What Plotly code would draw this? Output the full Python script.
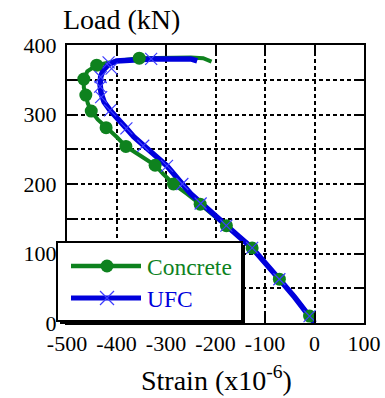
import plotly.graph_objects as go

# Load-strain curves (strain in x10^-6, load in kN)
concrete_strain = [0, -10, -40, -71, -100, -126, -152, -178, -205, -231, -258, -285, -305,
                   -322, -350, -381, -400, -421, -438, -451, -458, -462, -466, -466, -459,
                   -440, -400, -354, -300, -250, -225, -208]
concrete_load = [0, 10, 37, 63, 87, 108, 124, 140, 156, 171, 186, 200, 214,
                 227, 240, 254, 268, 281, 293, 305, 316, 328, 339, 351, 362,
                 371, 377, 381, 382, 382, 381, 376]

# Measured points marked on the concrete curve
concrete_mark_strain = [-10, -71, -126, -178, -231, -285, -322, -381, -421, -451, -462, -466, -440, -354]
concrete_mark_load = [10, 63, 108, 140, 171, 200, 227, 254, 281, 305, 328, 351, 371, 381]

ufc_strain = [0, -10, -40, -71, -100, -126, -152, -178, -205, -230, -250, -267, -283,
              -298, -322, -346, -365, -380, -397, -413, -425, -431, -433, -432, -427,
              -416, -400, -370, -330, -290, -250, -237]
ufc_load = [0, 10, 37, 63, 86, 108, 124, 140, 157, 172, 186, 200, 213,
            226, 241, 255, 268, 280, 293, 306, 318, 330, 342, 354, 364,
            372, 377, 379, 380, 380, 380, 377]

# Measured points marked on the UFC curve
ufc_mark_strain = [-10, -71, -126, -178, -230, -267, -298, -346, -380, -413, -431, -433, -432, -410, -416, -330]
ufc_mark_load = [10, 63, 108, 140, 172, 200, 226, 255, 280, 306, 325, 340, 354, 366, 375, 380]

x_ticks = [-500, -400, -300, -200, -100, 0, 100]
x_tick_text = ["-500", "-400", "-300", "-200", "-100", "0", "100"]
y_ticks = [0, 100, 200, 300, 400]
y_tick_text = ["0", "100", "200", "300", "400"]

series_names = ["Concrete", "UFC"]

GREEN = "#0e821e"
BLUE = "#0000dc"
XBLUE = "#3c3cff"
FONT = "Liberation Serif"

fig = go.Figure()

fig.add_trace(go.Scatter(x=concrete_strain, y=concrete_load, mode="lines", name=series_names[0],
                         line=dict(color=GREEN, width=4), showlegend=False))
fig.add_trace(go.Scatter(x=ufc_strain, y=ufc_load, mode="lines", name=series_names[1],
                         line=dict(color=BLUE, width=5.5), showlegend=False))
fig.add_trace(go.Scatter(x=concrete_mark_strain, y=concrete_mark_load, mode="markers",
                         name=series_names[0],
                         marker=dict(color=GREEN, size=13, symbol="circle"), showlegend=False))
fig.add_trace(go.Scatter(x=ufc_mark_strain, y=ufc_mark_load, mode="markers", name=series_names[1],
                         marker=dict(color=XBLUE, size=12, symbol="x-thin",
                                     line=dict(color=XBLUE, width=1.2)),
                         showlegend=False))

W, H = 385, 398
L, R, T, B = 67, 21, 45, 75
pw, ph = W - L - R, H - T - B


def px(xp):
    return (xp - L) / pw


def py(yp):
    return (H - B - yp) / ph


grid_style = dict(showgrid=True, gridcolor="black", gridwidth=2, griddash="4px,3px")

axis_common = dict(
    showline=True, linecolor="black", linewidth=2, mirror="ticks",
    ticks="inside", ticklen=10, tickwidth=2, tickcolor="black",
    zeroline=False, tickfont=dict(family=FONT, size=22, color="black"),
    tickmode="array", automargin=False, **grid_style,
)

fig.update_xaxes(range=[-500, 100], tickvals=x_ticks, ticktext=x_tick_text, **axis_common)
fig.update_yaxes(range=[0, 400], tickvals=y_ticks, ticktext=y_tick_text,
                 ticklabelstandoff=4,
                 minor=dict(dtick=50, ticks="inside", ticklen=10, tickwidth=2,
                            tickcolor="black", **grid_style),
                 **axis_common)

# Legend box with drop shadow
shapes = [
    dict(type="rect", x0=px(60), x1=px(245), y0=py(324), y1=py(245),
         fillcolor="black", line=dict(width=0)),
    dict(type="rect", x0=px(57), x1=px(242), y0=py(321), y1=py(242),
         fillcolor="white", line=dict(color="black", width=2)),
    # Concrete sample
    dict(type="line", x0=px(71), x1=px(141), y0=py(266), y1=py(266),
         line=dict(color=GREEN, width=4.5)),
    dict(type="circle", x0=px(100.5), x1=px(113.5), y0=py(272.5), y1=py(259.5),
         fillcolor=GREEN, line=dict(width=0)),
    # UFC sample
    dict(type="line", x0=px(71), x1=px(141), y0=py(298), y1=py(298),
         line=dict(color=BLUE, width=5)),
    dict(type="line", x0=px(100), x1=px(114), y0=py(291), y1=py(305),
         line=dict(color=XBLUE, width=1.2)),
    dict(type="line", x0=px(100), x1=px(114), y0=py(305), y1=py(291),
         line=dict(color=XBLUE, width=1.2)),
]
for s in shapes:
    s.update(xref="paper", yref="paper", layer="above")

annotations = [
    dict(text="Load (kN)", x=px(61), y=py(20), xanchor="left", yanchor="middle",
         font=dict(family=FONT, size=28, color="black")),
    dict(text="Strain (x10<sup>-6</sup>)", x=px(216), y=py(378), xanchor="center",
         yanchor="middle", font=dict(family=FONT, size=28, color="black")),
    dict(text=series_names[0], x=px(145), y=py(267), xanchor="left", yanchor="middle",
         font=dict(family=FONT, size=23.5, color=GREEN)),
    dict(text=series_names[1], x=px(145), y=py(299), xanchor="left", yanchor="middle",
         font=dict(family=FONT, size=23.5, color=BLUE)),
]
for a in annotations:
    a.update(xref="paper", yref="paper", showarrow=False)

fig.update_layout(
    width=W, height=H,
    margin=dict(l=L, r=R, t=T, b=B, autoexpand=False),
    paper_bgcolor="white", plot_bgcolor="white",
    font=dict(family=FONT, color="black"),
    showlegend=False,
    shapes=shapes,
    annotations=annotations,
)

fig.write_html("out.html")
